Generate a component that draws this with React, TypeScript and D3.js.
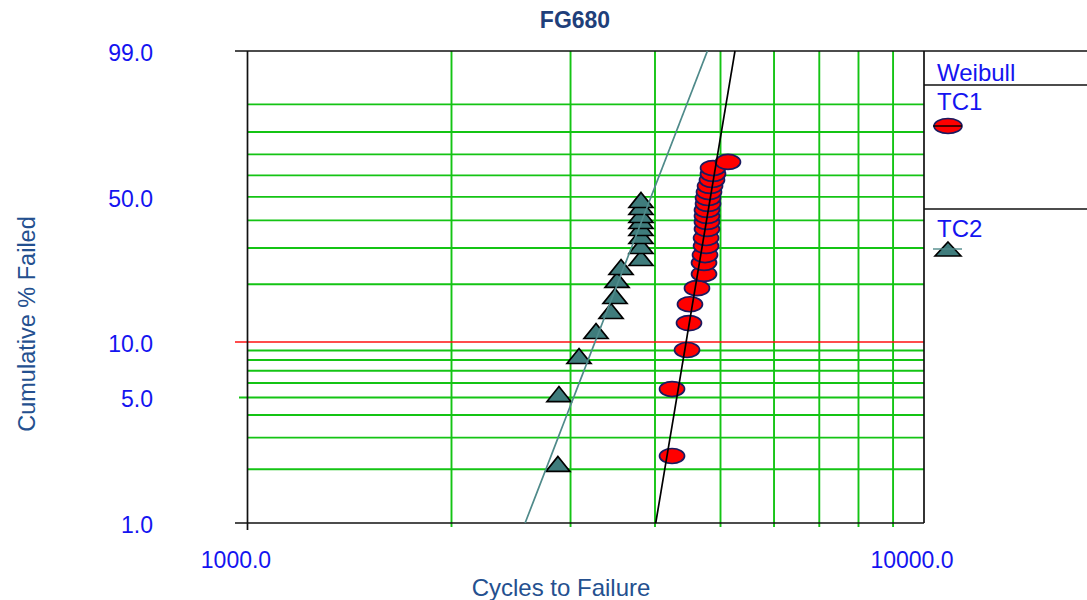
import React from "react";
import * as d3 from "d3";

// Weibull probability plot: cycles to failure (log) vs cumulative % failed (Weibull scale)
const title = "FG680";
const xTitle = "Cycles to Failure";
const yTitle = "Cumulative % Failed";

const yTickPercents = [1, 5, 10, 50, 99];
const yTickLabels = ["1.0", "5.0", "10.0", "50.0", "99.0"];
const gridPercents = [2, 3, 4, 5, 6, 7, 8, 9, 20, 30, 40, 50, 60, 70, 80, 90];
const refPercent = 10;
const xTickCycles = [1000, 10000];
const xTickLabels = ["1000.0", "10000.0"];
const gridCycles = [2000, 3000, 4000, 5000, 6000, 7000, 8000, 9000];

// TC1 failures
const tc1Cycles = [4239, 4239, 4461, 4491, 4506, 4615, 4727, 4727, 4743, 4760, 4760, 4775, 4775, 4775, 4775, 4792, 4792, 4808, 4825, 4857, 4874, 4874, 5129];
const tc1Percent = [2.37, 5.56, 9.06, 12.6, 15.8, 19.1, 22.5, 25.5, 27.8, 30.7, 33.4, 36.7, 39.4, 41.8, 44.3, 46.9, 49.5, 52.2, 55.0, 57.8, 60.7, 63.5, 66.4];

// TC2 failures
const tc2Cycles = [2874, 2884, 3088, 3272, 3444, 3491, 3515, 3563, 3814, 3814, 3814, 3814, 3814, 3814, 3814, 3814];
const tc2Percent = [2.14, 5.22, 8.41, 11.44, 14.58, 17.42, 21.0, 24.34, 26.91, 30.68, 34.1, 37.05, 39.76, 42.18, 45.55, 48.61];

// Weibull fit parameters (shape beta, scale eta)
const tc1Fit = { beta: 22.7, eta: 4911 };
const tc2Fit = { beta: 9.87, eta: 4096 };

const legendNames = ["TC1", "TC2"];

const W = 1087;
const H = 600;
const left = 248;
const right = 924;
const top = 51;
const bottom = 523;

const weib = (p: number) => Math.log(-Math.log(1 - p / 100));

const x = d3.scaleLog().domain([1000, 10000]).range([left, right]);
const y = d3.scaleLinear().domain([weib(1), weib(99)]).range([bottom, top]);
const yp = (p: number) => y(weib(p));

const fitPath = (fit: { beta: number; eta: number }) => {
  const ps = d3.range(1, 99.01, 0.5);
  const pts: [number, number][] = ps.map((p) => [
    x(fit.eta * Math.pow(-Math.log(1 - p / 100), 1 / fit.beta)),
    yp(p),
  ]);
  return d3.line()(pts) || "";
};

const triPath = (cx: number, cy: number, hw = 12, hh = 7.5) =>
  `M${cx},${cy - hh}L${cx + hw},${cy + hh}L${cx - hw},${cy + hh}Z`;

const FONT = "'Liberation Sans', Arial, sans-serif";
const GREEN = "#14c414";
const BLUE = "#1414f0";
const TEAL = "#3f7c7c";

export default function App() {
  return (
    <svg
      width={W}
      height={H}
      style={{ position: "absolute", left: 0, top: 0, background: "#fff" }}
      fontFamily={FONT}
    >
      {/* grid */}
      {gridPercents.map((p) => (
        <line key={"h" + p} x1={p === 5 ? 239 : left} x2={right} y1={yp(p)} y2={yp(p)} stroke={GREEN} strokeWidth={1.9} />
      ))}
      {gridCycles.map((c) => (
        <line key={"v" + c} x1={x(c)} x2={x(c)} y1={top} y2={bottom + 4} stroke={GREEN} strokeWidth={1.9} />
      ))}
      <line x1={235} x2={right} y1={yp(refPercent)} y2={yp(refPercent)} stroke="#ff1010" strokeWidth={1.7} />

      {/* frame */}
      <line x1={235} x2={W} y1={top} y2={top} stroke="#111" strokeWidth={1.7} />
      <line x1={235} x2={right} y1={bottom} y2={bottom} stroke="#111" strokeWidth={1.7} />
      <line x1={left - 0.5} x2={left - 0.5} y1={top} y2={bottom + 7} stroke="#111" strokeWidth={1.7} />
      <line x1={right} x2={right} y1={top} y2={bottom} stroke="#111" strokeWidth={1.7} />
      <line x1={right} x2={W} y1={85} y2={85} stroke="#111" strokeWidth={1.7} />
      <line x1={right} x2={W} y1={209} y2={209} stroke="#111" strokeWidth={1.7} />

      {/* points */}
      {tc2Cycles.map((c, i) => (
        <path key={"t" + i} d={triPath(x(c), yp(tc2Percent[i]))} fill={TEAL} stroke="#000" strokeWidth={1.7} />
      ))}
      {tc1Cycles.map((c, i) => (
        <ellipse key={"e" + i} cx={x(c)} cy={yp(tc1Percent[i])} rx={12.5} ry={7.5} fill="#ff0000" stroke="#1a1a60" strokeWidth={1.7} />
      ))}

      {/* fit lines */}
      <path d={fitPath(tc2Fit)} fill="none" stroke="#4f8a8a" strokeWidth={1.7} />
      <path d={fitPath(tc1Fit)} fill="none" stroke="#000" strokeWidth={1.7} />

      {/* axis labels */}
      {yTickPercents.map((p, i) => (
        <text key={"yl" + p} x={153} y={yp(p) + 2} dy="0.35em" textAnchor="end" fontSize={23} fill={BLUE}>
          {yTickLabels[i]}
        </text>
      ))}
      {xTickCycles.map((c, i) => (
        <text key={"xl" + c} x={x(c) - 12} y={568} textAnchor="middle" fontSize={23} fill={BLUE}>
          {xTickLabels[i]}
        </text>
      ))}
      <text x={561} y={596} textAnchor="middle" fontSize={24} fill="#24508f">
        {xTitle}
      </text>
      <text transform="translate(35,324) rotate(-90)" textAnchor="middle" fontSize={23.5} fill="#24508f">
        {yTitle}
      </text>
      <text x={575} y={28} textAnchor="middle" fontSize={23} fontWeight="bold" fill="#1f3f7a">
        {title}
      </text>

      {/* legend */}
      <text x={937} y={81} fontSize={24} fill={BLUE}>Weibull</text>
      <text x={937} y={110} fontSize={24} fill={BLUE}>{legendNames[0]}</text>
      <ellipse cx={948} cy={126} rx={14} ry={7.5} fill="#ff0000" stroke="#1a1a60" strokeWidth={1.6} />
      <line x1={933} x2={962} y1={126} y2={126} stroke="#000" strokeWidth={1.4} />
      <text x={937} y={237} fontSize={24} fill={BLUE}>{legendNames[1]}</text>
      <path d={triPath(948, 249, 13, 7)} fill={TEAL} stroke="#000" strokeWidth={1.6} />
      <line x1={933} x2={962} y1={249} y2={249} stroke="#4f8a8a" strokeWidth={1.4} />
    </svg>
  );
}
